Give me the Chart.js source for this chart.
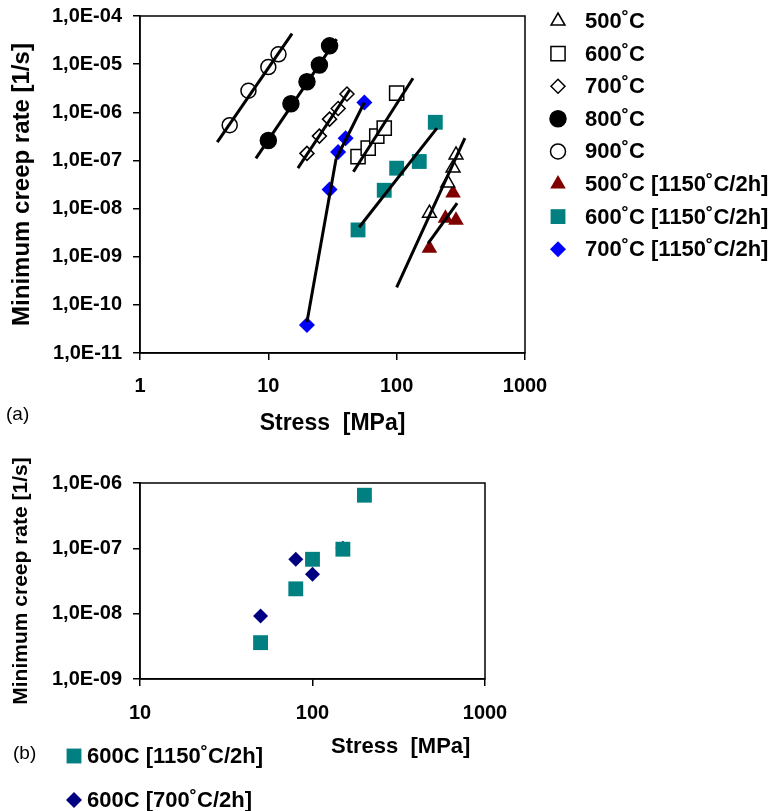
<!DOCTYPE html>
<html>
<head>
<meta charset="utf-8">
<script src="https://cdn.jsdelivr.net/npm/chart.js@4.4.1/dist/chart.umd.min.js"></script>
<style>
  body { margin:0; background:#fff; width:769px; height:811px; position:relative; overflow:hidden; font-family:'Liberation Sans', Arial, sans-serif; }
  canvas { position:absolute; left:0; }
  #chartA { top:0; }
  #chartB { top:440px; }
  .lbl { position:absolute; font-size:19px; color:#000; line-height:1; white-space:pre; }
</style>
</head>
<body>
<canvas id="chartA" width="769" height="440"></canvas>
<canvas id="chartB" width="769" height="371"></canvas>
<div class="lbl" style="left:6px; top:404px;">(a)</div>
<div class="lbl" style="left:13px; top:743px;">(b)</div>
<div class="lbl" style="left:331px; top:735px; font-weight:bold; font-size:22px;">Stress  [MPa]</div>
<script>
// ---- (a) minimum creep rate vs stress ----
const xTicksA = [1, 10, 100, 1000];
const yTicksA = [1e-11, 1e-10, 1e-9, 1e-8, 1e-7, 1e-6, 1e-5, 1e-4];

const stress500 = [180, 250, 275, 290];
const rate500   = [8e-9, 3.4e-8, 7e-8, 1.3e-7];
const stress600 = [50, 60, 70, 80, 100];
const rate600   = [1.2e-7, 1.8e-7, 3.2e-7, 4.7e-7, 2.5e-6];
const stress700 = [20, 25, 30, 35, 41];
const rate700   = [1.4e-7, 3.2e-7, 7.2e-7, 1.2e-6, 2.4e-6];
const stress800 = [10, 15, 20, 25, 30];
const rate800   = [2.6e-7, 1.5e-6, 4.3e-6, 9.6e-6, 2.4e-5];
const stress900 = [5, 7, 10, 12];
const rate900   = [5.4e-7, 2.8e-6, 8.7e-6, 1.6e-5];
const stress500h = [180, 240, 275, 290];
const rate500h   = [1.5e-9, 6.3e-9, 2.1e-8, 5.7e-9];
const stress600h = [50, 80, 100, 150, 200];
const rate600h   = [3.6e-9, 2.4e-8, 6.9e-8, 9.5e-8, 6.2e-7];
const stress700h = [20, 30, 35, 40, 56];
const rate700h   = [3.8e-11, 2.5e-8, 1.5e-7, 2.9e-7, 1.6e-6];

// fit lines (two end points each)
const fit500X  = [100, 340];   const fit500Y  = [2.3e-10, 2.9e-7];
const fit600X  = [46, 134];    const fit600Y  = [5.8e-8, 5.1e-6];
const fit700X  = [17, 43];     const fit700Y  = [6.9e-8, 2.9e-6];
const fit800X  = [8, 34];      const fit800Y  = [1.1e-7, 3.3e-5];
const fit900X  = [4, 15.3];    const fit900Y  = [2.4e-7, 4.3e-5];
const fit500hX = [176, 296];   const fit500hY = [1.9e-9, 1.3e-8];
const fit600hX = [51, 206];    const fit600hY = [4.1e-9, 4.7e-7];
const fit700hX = [20, 33.7];   const fit700hY = [4.4e-11, 1.07e-7];
const fit700h2X = [33.7, 56];  const fit700h2Y = [1.07e-7, 1.6e-6];

// ---- (b) 600C comparison ----
const xTicksB = [10, 100, 1000];
const yTicksB = [1e-9, 1e-8, 1e-7, 1e-6];
const stressB1 = [50, 80, 100, 150, 200];
const rateB1   = [3.6e-9, 2.4e-8, 6.8e-8, 9.7e-8, 6.5e-7];
const stressB2 = [50, 80, 100, 150];
const rateB2   = [9.2e-9, 6.8e-8, 4.0e-8, 1.0e-7];

const FONT = "'Liberation Sans', Arial, sans-serif";
Chart.defaults.font.family = FONT;
Chart.defaults.color = '#000';

const pts = (xs, ys) => xs.map((x, i) => ({x: x, y: ys[i]}));

const fmtRate = v => '1,0E-' + String(-Math.round(Math.log10(v))).padStart(2, '0');

// marker dataset
const marker = (label, xs, ys, style, radius, fill, border) => ({
    label: label,
    data: pts(xs, ys),
    pointStyle: style,
    pointRadius: radius,
    pointHoverRadius: radius,
    backgroundColor: fill,
    borderColor: border || fill,
    borderWidth: border ? 1.5 : 0,
    showLine: false,
    order: 2
});

// fit line dataset
const fitLine = (xs, ys) => ({
    label: '',
    data: pts(xs, ys),
    showLine: true,
    pointRadius: 0,
    borderColor: '#000',
    borderWidth: 3,
    fill: false,
    order: 1,
    isFit: true
});

// frame around the plot area
const framePlugin = {
    id: 'frame',
    afterDraw(chart) {
        const a = chart.chartArea, ctx = chart.ctx;
        ctx.save();
        ctx.strokeStyle = '#000';
        ctx.lineWidth = 1.5;
        ctx.strokeRect(a.left, a.top, a.right - a.left, a.bottom - a.top);
        ctx.restore();
    }
};

// legend drawn with the dataset point styles
const markLegend = {
    id: 'markLegend',
    afterDraw(chart, args, opts) {
        const ctx = chart.ctx;
        ctx.save();
        ctx.font = 'bold ' + opts.size + 'px ' + FONT;
        ctx.textBaseline = 'middle';
        let i = 0;
        chart.data.datasets.forEach(ds => {
            if (ds.isFit) return;
            const y = opts.top + i * opts.step;
            ctx.fillStyle = ds.backgroundColor;
            ctx.strokeStyle = ds.borderColor;
            ctx.lineWidth = ds.borderWidth;
            Chart.helpers.drawPoint(ctx, {pointStyle: ds.pointStyle, radius: opts.radius[ds.pointStyle] || ds.pointRadius, borderWidth: ds.borderWidth, rotation: 0}, opts.x, y);
            ctx.fillStyle = '#000';
            ctx.fillText(ds.label, opts.textX, y + 1);
            i++;
        });
        ctx.restore();
    }
};

// fixed axis size, no label overflow padding (keeps the plot box where it is)
const fixSize = (w, h) => s => {
    if (w) s.width = w;
    if (h) s.height = h;
    s.paddingTop = 0; s.paddingBottom = 0; s.paddingLeft = 0; s.paddingRight = 0;
};

function logAxis(min, max, ticks, fmt, pad, extra) {
    return Object.assign({
        type: 'logarithmic',
        min: min,
        max: max,
        afterBuildTicks: s => { s.ticks = ticks.map(v => ({value: v})); },
        ticks: {callback: fmt, color: '#000', autoSkip: false, maxRotation: 0, padding: pad,
                font: {size: 20, weight: 'bold'}},
        grid: {display: true, drawOnChartArea: false, drawTicks: true, tickLength: 7,
               tickColor: '#000', tickWidth: 1.5, lineWidth: 1.5},
        border: {display: true, color: '#000', width: 1.5}
    }, extra);
}

// ---- chart (a) ----
new Chart(document.getElementById('chartA'), {
    type: 'scatter',
    data: {
        datasets: [
            marker('500˚C', stress500, rate500, 'triangle', 8, '#fff', '#000'),
            marker('600˚C', stress600, rate600, 'rect', 10, '#fff', '#000'),
            marker('700˚C', stress700, rate700, 'rectRot', 7, '#fff', '#000'),
            marker('800˚C', stress800, rate800, 'circle', 8, '#000', '#000'),
            marker('900˚C', stress900, rate900, 'circle', 7.5, '#fff', '#000'),
            marker('500˚C [1150˚C/2h]', stress500h, rate500h, 'triangle', 9, '#800000'),
            marker('600˚C [1150˚C/2h]', stress600h, rate600h, 'rect', 10.5, '#008080'),
            marker('700˚C [1150˚C/2h]', stress700h, rate700h, 'rectRot', 8, '#0000ff'),
            fitLine(fit500X, fit500Y),
            fitLine(fit600X, fit600Y),
            fitLine(fit700X, fit700Y),
            fitLine(fit800X, fit800Y),
            fitLine(fit900X, fit900Y),
            fitLine(fit500hX, fit500hY),
            fitLine(fit600hX, fit600hY),
            fitLine(fit700hX, fit700hY),
            fitLine(fit700h2X, fit700h2Y)
        ]
    },
    options: {
        responsive: false,
        animation: false,
        layout: {padding: {top: 16, right: 244, left: 0, bottom: 0}},
        scales: {
            x: logAxis(1, 1000, xTicksA, v => String(v), 14, {
                afterFit: fixSize(0, 87),
                title: {display: true, text: 'Stress  [MPa]', color: '#000',
                        font: {size: 23, weight: 'bold'}, padding: {top: 0, bottom: 3}}
            }),
            y: logAxis(1e-11, 1e-4, yTicksA, fmtRate, 11, {
                afterFit: fixSize(140, 0),
                title: {display: true, text: 'Minimum creep rate [1/s]', color: '#000',
                        font: {size: 24, weight: 'bold'}, padding: {top: 8, bottom: 0}}
            })
        },
        plugins: {
            legend: {display: false},
            tooltip: {enabled: false},
            markLegend: {x: 558, textX: 585, top: 21, step: 32.6, size: 22, radius: {}}
        }
    },
    plugins: [framePlugin, markLegend]
});

// ---- chart (b) ----
new Chart(document.getElementById('chartB'), {
    type: 'scatter',
    data: {
        datasets: [
            marker('600C [1150˚C/2h]', stressB1, rateB1, 'rect', 10.5, '#008080'),
            marker('600C [700˚C/2h]', stressB2, rateB2, 'rectRot', 7.5, '#000080')
        ]
    },
    options: {
        responsive: false,
        animation: false,
        layout: {padding: {top: 43, right: 284, left: 0, bottom: 0}},
        scales: {
            x: logAxis(10, 1000, xTicksB, v => String(v), 15, {
                afterFit: fixSize(0, 132)
            }),
            y: logAxis(1e-9, 1e-6, yTicksB, fmtRate, 11, {
                afterFit: fixSize(140, 0),
                title: {display: true, text: 'Minimum creep rate [1/s]', color: '#000',
                        font: {size: 21, weight: 'bold'}, padding: {top: 9, bottom: 0}}
            })
        },
        plugins: {
            legend: {display: false},
            tooltip: {enabled: false},
            markLegend: {x: 74, textX: 87, top: 316, step: 44, size: 22, radius: {rectRot: 8}}
        }
    },
    plugins: [framePlugin, markLegend]
});
</script>
</body>
</html>
